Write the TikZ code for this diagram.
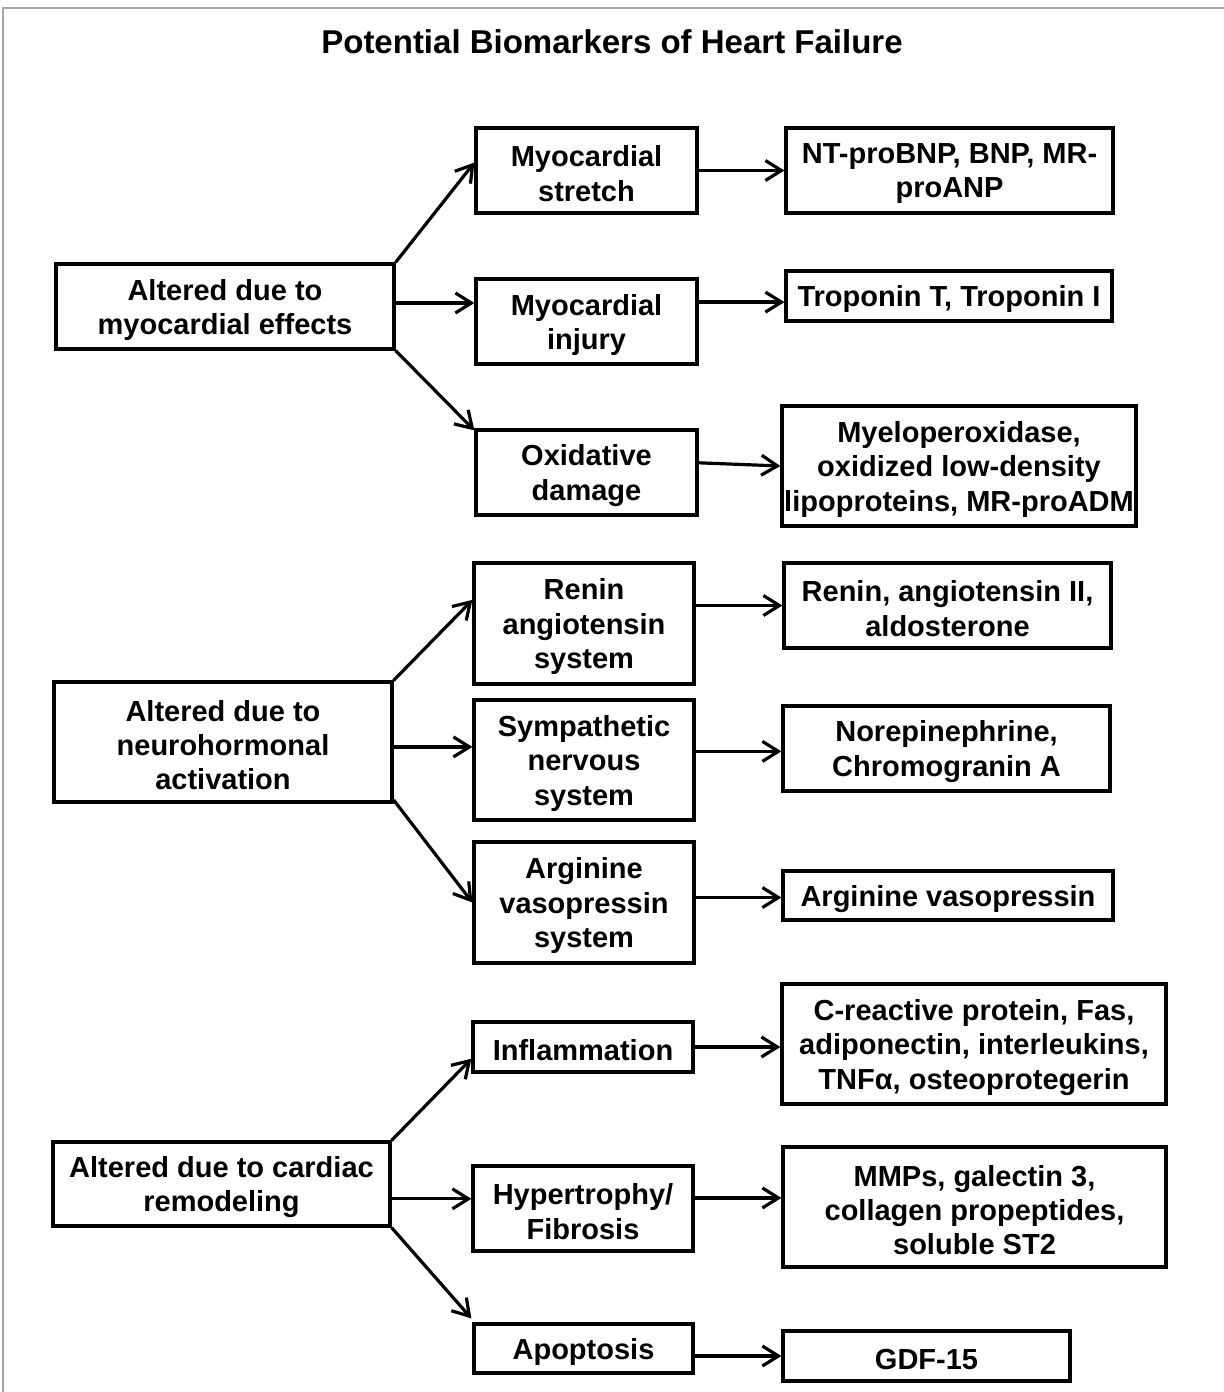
\documentclass[tikz,border=0pt]{standalone}
\usepackage{fontspec}
\setmainfont{Liberation Sans}
\usetikzlibrary{arrows.meta,calc}
\newcommand\mybox[6]{\node[box, minimum width={(#4-#2)*0.5pt}, minimum height={(#5-#3)*0.5pt},
  label={[lbl]center:{#6}}] (#1) at ({(#2+#4)/2},{(#3+#5)/2}) {};}
\begin{document}
\begin{tikzpicture}[x=0.5pt,y=-0.5pt,
  box/.style={draw=black, line width=1.6pt, inner sep=0pt},
  lbl/.style={inner sep=0pt, align=center, yshift=-1.6pt,
    font=\bfseries\fontsize{14.5}{17.2}\selectfont},
  arr/.style={line width=1.6pt, -{Straight Barb[length=8pt,width=10pt,line width=1.6pt]}},
  frame/.style={draw=gray!70, line width=1pt}]
\useasboundingbox (0,0) rectangle (1224,1392);
\draw[frame] (3,1392) -- (3,8) -- (1224,8);
\node[font=\bfseries\fontsize{16.5}{19}\selectfont] (title) at (612,42) {Potential Biomarkers of Heart Failure};
% left
\mybox{L1}{56}{264}{394}{349}{Altered due to\\myocardial effects}
\mybox{L2}{54}{682}{392}{802}{Altered due to\\neurohormonal\\activation}
\mybox{L3}{53}{1142}{390}{1226}{Altered due to cardiac\\remodeling}
% middle
\mybox{M1}{476}{128}{697}{213}{Myocardial\\stretch}
\mybox{M2}{476}{279}{697}{364}{Myocardial\\injury}
\mybox{M3}{476}{430}{697}{515}{Oxidative\\damage}
\mybox{M4}{474}{563}{694}{684}{Renin\\angiotensin\\system}
\mybox{M5}{474}{700}{694}{820}{Sympathetic\\nervous\\system}
\mybox{M6}{474}{842}{694}{963}{Arginine\\vasopressin\\system}
\mybox{M7}{473}{1022}{693}{1072}{Inflammation}
\mybox{M8}{473}{1166}{693}{1251}{Hypertrophy/\\Fibrosis}
\mybox{M9}{474}{1324}{693}{1373}{Apoptosis}
% right
\mybox{R1}{786}{128}{1113}{213}{NT-proBNP, BNP, MR-\\proANP}
\mybox{R2}{786}{271}{1112}{321}{Troponin T, Troponin I}
\mybox{R3}{782}{406}{1136}{526}{Myeloperoxidase,\\oxidized low-density\\lipoproteins, MR-proADM}
\mybox{R4}{784}{563}{1111}{648}{Renin, angiotensin II,\\aldosterone}
\mybox{R5}{783}{706}{1110}{791}{Norepinephrine,\\Chromogranin A}
\mybox{R6}{783}{871}{1113}{920}{Arginine vasopressin}
\mybox{R7}{782}{984}{1166}{1104}{C-reactive protein, Fas,\\adiponectin, interleukins,\\TNFα, osteoprotegerin}
\mybox{R8}{783}{1147}{1166}{1267}{MMPs, galectin 3,\\collagen propeptides,\\soluble ST2}
\mybox{R9}{783}{1331}{1070}{1381}{GDF-15}
% group 1
\draw[arr] (L1.north east) -- ($(M1.north west)!0.41!(M1.south west)$);
\coordinate (l1m) at ($(L1.north east)!0.46!(L1.south east)$);
\draw[arr] (l1m) -- (l1m -| M2.west);
\draw[arr] (L1.south east) -- ($(M3.north west)+(0,2)$);
\draw[arr] (M1.east) -- (R1.west);
\coordinate (m2o) at ($(M2.north east)!0.28!(M2.south east)$);
\draw[arr] (m2o) -- (m2o -| R2.west);
\draw[arr] ($(M3.north east)!0.39!(M3.south east)$) -- (R3.west);
% group 2
\draw[arr] (L2.north east) -- ($(M4.north west)!0.31!(M4.south west)$);
\coordinate (l2m) at ($(L2.north east)!0.54!(L2.south east)$);
\draw[arr] (l2m) -- (l2m -| M5.west);
\draw[arr] ($(L2.north east)!0.97!(L2.south east)$) -- ($(M6.north west)!0.5!(M6.south west)$);
\draw[arr] (M4.east |- R4.west) -- (R4.west);
\coordinate (m5o) at ($(M5.north east)!0.43!(M5.south east)$);
\draw[arr] (m5o) -- (m5o -| R5.west);
\coordinate (m6o) at ($(M6.north east)!0.46!(M6.south east)$);
\draw[arr] (m6o) -- (m6o -| R6.west);
% group 3
\draw[arr] (L3.north east) -- ($(M7.north west)!0.72!(M7.south west)$);
\coordinate (l3m) at ($(L3.north east)!0.67!(L3.south east)$);
\draw[arr] (l3m) -- (l3m -| M8.west);
\draw[arr] (L3.south east) -- ($(M9.north west)+(-1,-4)$);
\draw[arr] (M7.east) -- (M7.east -| R7.west);
\coordinate (m8o) at ($(M8.north east)!0.38!(M8.south east)$);
\draw[arr] (m8o) -- (m8o -| R8.west);
\draw[arr] (M9.east |- R9.west) -- (R9.west);
\end{tikzpicture}
\end{document}
